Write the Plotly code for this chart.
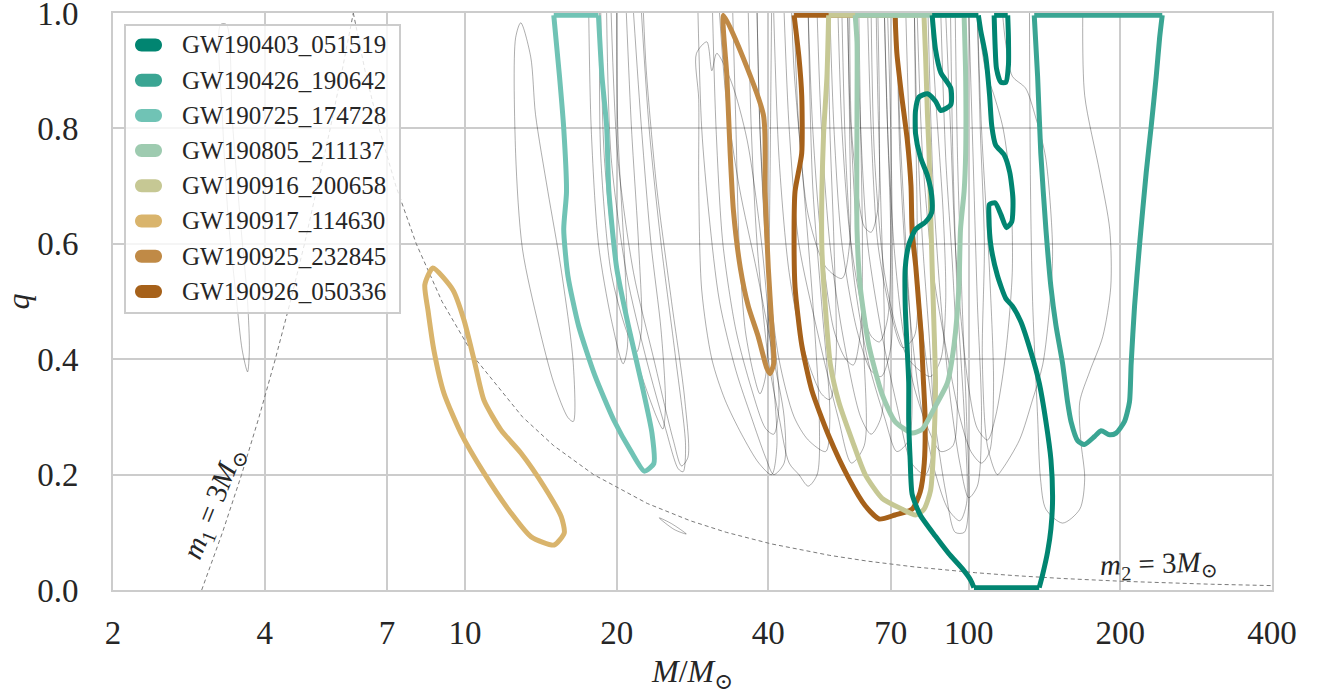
import numpy as np
import plotly.graph_objects as go

FONT = "Liberation Serif, DejaVu Serif, serif"

# highlighted events (legend order) and their colours
events = ["GW190403_051519", "GW190426_190642", "GW190725_174728", "GW190805_211137",
          "GW190916_200658", "GW190917_114630", "GW190925_232845", "GW190926_050336"]
colors = ["#018571", "#3aa593", "#70c3b5", "#9ecbb0",
          "#c6c894", "#d9b46c", "#c08a46", "#a6611a"]

# 90% contours, total mass M and mass ratio q
gw190403_m = [84.6, 85.9, 88.0, 92.1, 92.1, 88.0, 85.9, 82.8, 79.6, 78.4, 78.4, 80.1, 82.8, 84.4,
              84.4, 82.1, 78.4, 76.0, 74.8, 74.8, 75.4, 76.0, 76.0, 76.5, 77.2, 80.1, 85.9, 91.3,
              97.1, 100.9, 102.4, 138.0, 140.2, 143.4, 145.6, 146.7, 145.6, 142.3, 138.0, 132.9,
              126.9, 122.1, 118.5, 114.0, 110.6, 109.7, 109.9, 112.8, 115.8, 118.8, 121.7, 122.4,
              120.6, 117.6, 113.1, 111.1, 110.0, 108.1, 105.6, 104.5, 84.6, None,
              112.3, 112.8, 113.5, 115.8, 118.5, 119.9, 119.9, 119.5, 112.3]
gw190403_q = [0.996, 0.937, 0.897, 0.870, 0.841, 0.831, 0.847, 0.860, 0.854, 0.831, 0.791, 0.751,
              0.718, 0.684, 0.654, 0.638, 0.625, 0.598, 0.558, 0.492, 0.425, 0.359, 0.292, 0.226,
              0.166, 0.130, 0.093, 0.063, 0.037, 0.017, 0.004, 0.004, 0.027, 0.066, 0.106, 0.159,
              0.226, 0.292, 0.359, 0.412, 0.465, 0.492, 0.505, 0.545, 0.598, 0.645, 0.668, 0.671,
              0.651, 0.628, 0.638, 0.678, 0.724, 0.754, 0.771, 0.804, 0.857, 0.924, 0.970, 0.996,
              0.996, None,
              0.996, 0.944, 0.904, 0.880, 0.880, 0.910, 0.957, 0.996, 0.996]

gw190426_m = [134.9, 137.0, 139.0, 142.3, 145.6, 149.0, 153.6, 157.1, 159.6, 164.5, 169.6, 177.7,
              183.1, 190.3, 196.1, 203.8, 208.5, 210.1, 213.4, 218.3, 225.1, 230.3, 235.6, 239.3,
              242.2, 134.9]
gw190426_q = [0.996, 0.890, 0.757, 0.625, 0.525, 0.458, 0.392, 0.326, 0.292, 0.259, 0.252, 0.266,
              0.276, 0.269, 0.272, 0.292, 0.326, 0.392, 0.492, 0.598, 0.724, 0.804, 0.890, 0.957,
              0.996, 0.996]

gw190725_m = [15.0, 15.4, 15.7, 15.9, 15.7, 16.0, 16.8, 18.1, 19.8, 21.4, 22.7, 23.7, 23.5, 22.4,
              21.1, 20.0, 19.3, 19.1, 18.7, 18.4, 15.0]
gw190725_q = [0.996, 0.89, 0.80, 0.69, 0.625, 0.545, 0.458, 0.372, 0.292, 0.239, 0.206, 0.219,
              0.272, 0.359, 0.458, 0.558, 0.691, 0.804, 0.89, 0.996, 0.996]

gw190805_m = [59.5, 60.0, 60.0, 60.0, 60.9, 63.3, 67.3, 71.4, 77.2, 80.9, 85.9, 90.7, 93.5, 95.6,
              96.3, 97.9, 98.6, 98.6, 97.9, 59.5]
gw190805_q = [0.996, 0.95, 0.824, 0.625, 0.525, 0.425, 0.339, 0.292, 0.272, 0.279, 0.319, 0.359,
              0.425, 0.525, 0.625, 0.691, 0.757, 0.890, 0.996, 0.996]

gw190916_m = [52.7, 52.3, 51.5, 51.1, 51.1, 51.9, 53.1, 55.2, 58.7, 62.3, 67.3, 73.8, 78.4, 81.5,
              84.0, 85.3, 85.9, 85.3, 84.6, 84.0, 83.4, 82.8, 82.1, 81.5, 52.7]
gw190916_q = [0.996, 0.890, 0.791, 0.691, 0.591, 0.492, 0.392, 0.326, 0.259, 0.20, 0.159, 0.140,
              0.130, 0.140, 0.173, 0.259, 0.359, 0.458, 0.558, 0.658, 0.757, 0.824, 0.924, 0.996,
              0.996]

gw190917_m = [8.63, 8.32, 8.44, 8.67, 9.08, 9.81, 10.9, 12.35, 13.53, 15.03, 15.74, 15.52, 14.36,
              12.92, 11.79, 10.9, 10.42, 9.95, 9.46, 8.63]
gw190917_q = [0.558, 0.529, 0.485, 0.416, 0.341, 0.272, 0.203, 0.133, 0.092, 0.078, 0.099, 0.127,
              0.179, 0.237, 0.277, 0.329, 0.399, 0.468, 0.520, 0.558]

gw190925_m = [32.6, 33.1, 33.6, 34.1, 35.2, 36.5, 38.2, 39.7, 40.3, 41.0, 40.65, 40.0, 39.4,
              39.1, 32.6]
gw190925_q = [0.996, 0.890, 0.757, 0.658, 0.558, 0.492, 0.439, 0.385, 0.375, 0.392, 0.458, 0.558,
              0.691, 0.824, 0.996]

gw190926_m = [45.0, 46.0, 46.6, 46.6, 45.2, 45.0, 45.2, 46.6, 48.8, 52.8, 57.8, 62.3, 66.4, 71.4,
              77.2, 80.1, 81.6, 81.9, 81.2, 80.5, 79.5, 78.5, 77.2, 76.8, 75.5, 73.5, 72.0, 71.4,
              45.0]
gw190926_q = [0.996, 0.924, 0.857, 0.757, 0.691, 0.625, 0.525, 0.425, 0.346, 0.266, 0.193, 0.146,
              0.123, 0.130, 0.140, 0.17, 0.22, 0.30, 0.37, 0.44, 0.50, 0.56, 0.62, 0.70, 0.78,
              0.86, 0.93, 0.996, 0.996]

event_m = [gw190403_m, gw190426_m, gw190725_m, gw190805_m,
           gw190916_m, gw190917_m, gw190925_m, gw190926_m]
event_q = [gw190403_q, gw190426_q, gw190725_q, gw190805_q,
           gw190916_q, gw190917_q, gw190925_q, gw190926_q]

# other events in the catalogue (thin grey contours)
grey_m = [
    [3.27, 3.30, 3.39, 3.52, 3.61, 3.70, 3.73, 3.70, 3.58, 3.45, 3.36, 3.27],
    [12.9, 12.6, 12.6, 13.0, 14.0, 15.0, 16.0, 16.4, 16.4, 15.5, 14.6, 13.8, 13.5, 12.9],
    [24.3, 25.7, 27.5, 26.0, 24.3],
    [17.6, 17.8, 18.4, 19.5, 20.6, 21.0, 20.8, 20.1, 20.0],
    [18.5, 18.6, 19.5, 20.9, 21.9, 22.4, 22.1, 21.4, 20.9],
    [18.6, 18.9, 20.0, 21.9, 24.0, 24.7, 25.0, 24.5, 23.4, 22.4, 21.6],
    [19.1, 19.5, 20.9, 22.9, 25.0, 26.5, 27.1, 27.4, 26.2, 24.5, 23.2, 22.4],
    [19.5, 20.1, 21.6, 23.7, 25.9, 26.9, 27.7, 27.3, 25.7, 24.0, 22.9, 22.6],
    [28.8, 29.1, 29.1, 29.5, 30.9, 32.8, 35.4, 38.3, 40.6, 41.6, 40.6, 38.8, 36.3, 33.8, 31.6,
     30.9, 30.2, 28.8],
    [34.0, 34.5, 35.0, 36.0, 37.5, 38.5, 39.5, 40.0, 40.3, 40.5, 40.6],
    [36.5, 37.0, 38.0, 40.0, 42.0, 44.0, 46.0, 48.0, 50.0, 50.5, 49.0, 47.0, 45.0, 44.5],
    [38.0, 38.5, 40.0, 42.0, 45.0, 48.0, 52.0, 53.0, 51.0, 49.0, 48.0],
    [41.0, 42.0, 44.0, 47.0, 51.0, 53.0, 54.5, 54.0, 53.0, 52.5],
    [43.0, 44.0, 46.0, 50.0, 55.0, 58.5, 62.0, 62.0, 60.0, 58.0, 57.5],
    [48.0, 49.0, 51.0, 54.0, 57.0, 59.0, 61.0, 61.5, 61.0, 60.5],
    [50.0, 51.0, 53.0, 56.0, 61.0, 64.0, 67.0, 68.0, 67.0, 66.0, 65.5],
    [53.0, 54.0, 56.0, 60.0, 64.0, 67.0, 70.0, 70.5, 70.0, 69.0],
    [56.0, 57.0, 59.0, 63.0, 68.0, 72.0, 76.0, 77.0, 75.0, 73.0, 72.0],
    [58.0, 58.5, 60.0, 62.0, 64.0, 66.0, 66.5, 66.0],
    [45.0, 46.0, 48.0, 52.0, 56.0, 58.0, 58.0, 57.5],
    [60.0, 61.0, 63.0, 67.0, 72.0, 77.0, 82.0, 85.0, 84.0, 81.0, 79.0, 78.0],
    [63.0, 64.0, 66.0, 70.0, 74.0, 78.0, 79.0, 78.5, 78.0],
    [68.0, 69.0, 71.0, 74.0, 78.0, 83.0, 88.0, 93.0, 95.0, 93.0, 90.0, 88.0],
    [72.0, 73.0, 76.0, 80.0, 86.0, 91.0, 96.0, 99.0, 98.0, 95.0, 93.0, 92.0],
    [75.0, 77.0, 81.0, 86.0, 90.0, 94.0, 98.0, 100.0, 99.0, 97.0, 95.0, 94.0],
    [79.0, 81.0, 85.0, 91.0, 96.0, 101.0, 106.0, 110.0, 112.0, 110.0, 106.0, 104.0],
    [90.0, 92.0, 94.0, 97.0, 100.0, 104.0, 109.0, 113.0, 118.0, 122.0, 121.0, 117.0, 112.0,
     108.0, 104.0],
    [29.0, 29.5, 30.5, 32.0, 34.5, 37.0, 39.5, 41.0, 43.0, 43.0, 41.0, 38.0, 35.0, 33.0, 32.0],
    [31.0, 31.5, 32.5, 34.5, 37.0, 39.5, 41.0, 42.0, 41.0, 39.5, 38.5, 38.0],
    [64.0, 65.0, 68.0, 72.0, 76.0, 80.0, 84.0, 88.0, 90.0, 89.0, 86.0, 84.0],
    [83.0, 85.0, 88.0, 92.0, 96.0, 100.0, 104.0, 106.0, 104.0, 102.0, 100.0],
    [55.0, 56.0, 58.0, 61.0, 64.0, 66.5, 69.0, 70.0, 69.0, 68.0],
    [104.0, 105.4, 107.4, 106.4, 108.9, 114.0, 116.7, 126.1, 133.9, 140.2, 144.7, 146.7, 142.1,
     135.7, 129.6, 122.1, 118.3, 116.7],
    [132.0, 132.6, 133.9, 137.0, 138.8, 142.3, 153.6, 166.1, 169.9, 166.9, 166.1, 173.9, 184.5,
     191.4, 190.5, 182.0, 169.9, 168.4],
]
grey_q = [
    [0.98, 0.815, 0.64, 0.50, 0.416, 0.378, 0.416, 0.50, 0.64, 0.815, 0.98, 0.98],
    [0.983, 0.957, 0.757, 0.591, 0.458, 0.359, 0.299, 0.292, 0.392, 0.558, 0.691, 0.824, 0.924,
     0.983],
    [0.125, 0.115, 0.097, 0.105, 0.125],
    [1.0, 0.8, 0.6, 0.47, 0.392, 0.42, 0.55, 0.8, 1.0],
    [1.0, 0.75, 0.55, 0.45, 0.412, 0.45, 0.6, 0.8, 1.0],
    [1.0, 0.75, 0.55, 0.40, 0.30, 0.279, 0.32, 0.45, 0.6, 0.8, 1.0],
    [1.0, 0.75, 0.55, 0.40, 0.28, 0.21, 0.205, 0.25, 0.40, 0.60, 0.80, 1.0],
    [1.0, 0.75, 0.55, 0.40, 0.26, 0.215, 0.23, 0.33, 0.50, 0.70, 0.90, 1.0],
    [0.93, 0.85, 0.70, 0.52, 0.40, 0.33, 0.27, 0.22, 0.20, 0.25, 0.40, 0.60, 0.78, 0.88, 0.93,
     0.90, 0.95, 0.93],
    [1.0, 0.8, 0.6, 0.45, 0.37, 0.34, 0.37, 0.5, 0.7, 0.9, 1.0],
    [1.0, 0.8, 0.6, 0.4, 0.3, 0.22, 0.2, 0.18, 0.2, 0.3, 0.5, 0.7, 0.9, 1.0],
    [1.0, 0.8, 0.55, 0.4, 0.3, 0.26, 0.24, 0.3, 0.5, 0.7, 1.0],
    [1.0, 0.75, 0.55, 0.42, 0.34, 0.33, 0.4, 0.6, 0.8, 1.0],
    [1.0, 0.8, 0.6, 0.45, 0.3, 0.22, 0.25, 0.4, 0.6, 0.85, 1.0],
    [1.0, 0.8, 0.6, 0.45, 0.4, 0.39, 0.45, 0.6, 0.8, 1.0],
    [1.0, 0.8, 0.6, 0.45, 0.3, 0.27, 0.3, 0.45, 0.65, 0.85, 1.0],
    [1.0, 0.8, 0.6, 0.45, 0.38, 0.37, 0.42, 0.6, 0.8, 1.0],
    [1.0, 0.75, 0.55, 0.4, 0.3, 0.24, 0.26, 0.4, 0.6, 0.8, 1.0],
    [1.0, 0.8, 0.7, 0.63, 0.62, 0.66, 0.8, 1.0],
    [1.0, 0.8, 0.65, 0.56, 0.54, 0.6, 0.8, 1.0],
    [1.0, 0.8, 0.6, 0.45, 0.32, 0.22, 0.2, 0.25, 0.4, 0.6, 0.8, 1.0],
    [1.0, 0.8, 0.6, 0.48, 0.42, 0.44, 0.6, 0.8, 1.0],
    [1.0, 0.8, 0.6, 0.45, 0.35, 0.28, 0.24, 0.25, 0.35, 0.55, 0.75, 1.0],
    [1.0, 0.75, 0.5, 0.33, 0.2, 0.14, 0.12, 0.15, 0.3, 0.5, 0.75, 1.0],
    [1.0, 0.7, 0.45, 0.28, 0.17, 0.1, 0.1, 0.15, 0.3, 0.5, 0.75, 1.0],
    [1.0, 0.75, 0.55, 0.4, 0.3, 0.24, 0.22, 0.24, 0.35, 0.55, 0.8, 1.0],
    [1.0, 0.8, 0.6, 0.45, 0.35, 0.28, 0.26, 0.3, 0.4, 0.55, 0.7, 0.8, 0.86, 0.9, 1.0],
    [1.0, 0.8, 0.65, 0.5, 0.38, 0.3, 0.23, 0.2, 0.22, 0.3, 0.4, 0.55, 0.7, 0.85, 1.0],
    [1.0, 0.8, 0.6, 0.45, 0.35, 0.28, 0.27, 0.32, 0.45, 0.6, 0.8, 1.0],
    [1.0, 0.75, 0.55, 0.45, 0.4, 0.38, 0.37, 0.4, 0.5, 0.65, 0.85, 1.0],
    [1.0, 0.7, 0.5, 0.33, 0.22, 0.16, 0.18, 0.3, 0.5, 0.75, 1.0],
    [1.0, 0.8, 0.62, 0.5, 0.44, 0.43, 0.47, 0.6, 0.8, 1.0],
    [1.0, 0.8, 0.6, 0.4, 0.25, 0.2, 0.21, 0.26, 0.33, 0.39, 0.49, 0.59, 0.75, 0.82, 0.87, 0.89,
     0.95, 1.0],
    [1.0, 0.7, 0.5, 0.3, 0.193, 0.140, 0.116, 0.140, 0.193, 0.259, 0.326, 0.379, 0.439, 0.525,
     0.625, 0.724, 0.857, 1.0],
]

# m1 = 3 Msun and m2 = 3 Msun boundaries
m1_line_q = [0.0, 0.1, 0.2, 0.3, 0.4, 0.5, 0.6, 0.7, 0.8, 0.9, 1.0]
m1_line_m = [3.0, 3.3, 3.6, 3.9, 4.2, 4.5, 4.8, 5.1, 5.4, 5.7, 6.0]
m2_line_q = [1.0, 0.9, 0.8, 0.7, 0.6, 0.5, 0.4, 0.3, 0.25, 0.2, 0.15, 0.12, 0.1, 0.08, 0.06,
             0.05, 0.04, 0.03, 0.025, 0.02, 0.015, 0.012, 0.01, 0.0076]
m2_line_m = [6.0, 6.33, 6.75, 7.29, 8.0, 9.0, 10.5, 13.0, 15.0, 18.0, 23.0, 28.0, 33.0, 40.5,
             53.0, 63.0, 78.0, 103.0, 123.0, 153.0, 203.0, 253.0, 303.0, 400.0]

x_ticks = [2, 4, 7, 10, 20, 40, 70, 100, 200, 400]
y_ticks = [0.0, 0.2, 0.4, 0.6, 0.8, 1.0]


def with_straight_edges(ms, qs):
    """Break the path where it runs along q=0 or q=1 so those edges stay straight."""
    out_m, out_q = [], []
    prev = None
    for m, q in zip(ms, qs):
        if m is None:
            out_m.append(None)
            out_q.append(None)
            prev = None
            continue
        if prev is not None and prev[1] == q and (q > 0.99 or q < 0.01):
            # close current curve, add the straight edge as its own 2-point piece
            out_m += [None, prev[0], m, None]
            out_q += [None, q, q, None]
        out_m.append(m)
        out_q.append(q)
        prev = (m, q)
    return out_m, out_q


fig = go.Figure()

# grey background contours
for gm, gq in zip(grey_m, grey_q):
    fig.add_trace(go.Scatter(
        x=gm, y=gq, mode="lines",
        line=dict(color="rgba(0,0,0,0.32)", width=1, shape="spline", smoothing=0.8),
        showlegend=False, hoverinfo="skip"
    ))

# dashed component-mass boundaries
for lm, lq in [(m1_line_m, m1_line_q), (m2_line_m, m2_line_q)]:
    fig.add_trace(go.Scatter(
        x=lm, y=lq, mode="lines",
        line=dict(color="#7a7a7a", width=1, dash="4px,3px"),
        showlegend=False, hoverinfo="skip"
    ))

# highlighted events, last one drawn first
for i in reversed(range(len(events))):
    if min(v for v in event_q[i] if v is not None) > 0.01 and max(
            v for v in event_q[i] if v is not None) < 0.99:
        xs, ys = event_m[i], event_q[i]
    else:
        xs, ys = with_straight_edges(event_m[i], event_q[i])
    fig.add_trace(go.Scatter(
        x=xs, y=ys, mode="lines", name=events[i],
        line=dict(color=colors[i], width=5, shape="spline", smoothing=0.6),
        connectgaps=False, showlegend=False, hoverinfo="skip"
    ))

# hand-made legend (matplotlib-style rounded patches)
W, H = 1332, 698
L, R, T, B = 113, 60, 13, 108
pw, ph = W - L - R, H - T - B


def px(x):
    return (x - L) / pw


def py(y):
    return (H - B - y) / ph


shapes = [dict(type="rect", xref="paper", yref="paper",
               x0=px(125), x1=px(400), y0=py(313), y1=py(25),
               fillcolor="rgba(255,255,255,0.8)", line=dict(color="#cccccc", width=2),
               layer="above")]
pill = ("M-7,-6.5 L7,-6.5 C10.6,-6.5 13.5,-3.6 13.5,0 C13.5,3.6 10.6,6.5 7,6.5 "
        "L-7,6.5 C-10.6,6.5 -13.5,3.6 -13.5,0 C-13.5,-3.6 -10.6,-6.5 -7,-6.5 Z")
annotations = []
for i, (name, c) in enumerate(zip(events, colors)):
    yy = 45 + 35.2 * i
    shapes.append(dict(type="path", xref="paper", yref="paper",
                       xsizemode="pixel", ysizemode="pixel",
                       xanchor=px(148.5), yanchor=py(yy), path=pill,
                       fillcolor=c, line=dict(color=c, width=0), layer="above"))
    annotations.append(dict(xref="paper", yref="paper", x=px(180), y=py(yy),
                            xanchor="left", yanchor="middle", showarrow=False,
                            text=name, font=dict(family=FONT, size=25, color="#262626")))

annotations.append(dict(
    x=np.log10(3.18), y=0.151, xref="x", yref="y", showarrow=False, textangle=-68,
    text="<i>m</i><sub>1</sub> = 3<i>M</i><sub>⊙</sub>",
    font=dict(family=FONT, size=29, color="#262626")
))
annotations.append(dict(
    x=np.log10(239.0), y=0.043, xref="x", yref="y", showarrow=False, textangle=-2,
    text="<i>m</i><sub>2</sub> = 3<i>M</i><sub>⊙</sub>",
    font=dict(family=FONT, size=29, color="#262626")
))

fig.update_layout(
    width=W, height=H,
    margin=dict(l=L, r=R, t=T, b=B, autoexpand=False),
    plot_bgcolor="white", paper_bgcolor="white",
    font=dict(family=FONT, size=33, color="#262626"),
    shapes=shapes, annotations=annotations,
    showlegend=False,
    xaxis=dict(
        type="log", range=[np.log10(2), np.log10(400)],
        tickvals=x_ticks, ticktext=[str(v) for v in x_ticks],
        showgrid=True, gridcolor="#cccccc", gridwidth=2,
        showline=True, linecolor="#cccccc", linewidth=2, mirror=True,
        ticks="", ticklabelstandoff=12, zeroline=False, automargin=False,
        ticklabeloverflow="allow",
        title=dict(text="<i>M</i>/<i>M</i><sub>⊙</sub>", standoff=10,
                   font=dict(family=FONT, size=32))
    ),
    yaxis=dict(
        range=[0, 1], tickvals=y_ticks, tickformat=".1f",
        showgrid=True, gridcolor="#cccccc", gridwidth=2,
        showline=True, linecolor="#cccccc", linewidth=2, mirror=True,
        ticks="", ticklabelstandoff=26, zeroline=False, automargin=False,
        ticklabeloverflow="allow",
        title=dict(text="<i>q</i>", standoff=14, font=dict(family=FONT, size=32))
    ),
)

fig.write_html("out.html", config={"displayModeBar": False},
               post_script="document.body.style.margin='0px';")
